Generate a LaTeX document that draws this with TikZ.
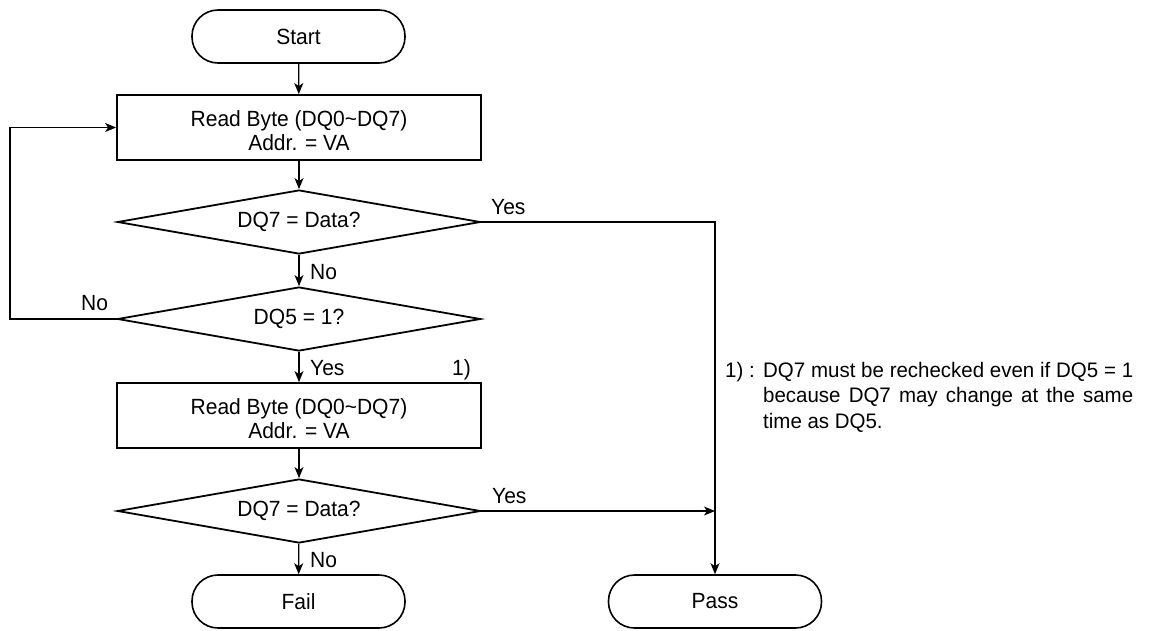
\documentclass[tikz,border=0pt]{standalone}
\usepackage{fontspec}
\setmainfont{Liberation Sans}[FakeStretch=0.955]
\newfontfamily\notefont{Liberation Sans}[FakeStretch=0.975]
\usetikzlibrary{shapes.geometric,arrows.meta}
\begin{document}
\begin{tikzpicture}[x=1pt,y=-1pt,
  font=\fontsize{22}{24}\selectfont,
  box/.style={draw, line width=1.8pt, rectangle, minimum width=364pt, minimum height=65pt, inner sep=0pt, align=center},
  term/.style={draw, line width=1.6pt, rectangle, rounded corners=26pt, minimum width=213pt, minimum height=53pt, inner sep=0pt},
  dec/.style={draw, line width=1.8pt, diamond, aspect=5.67, minimum width=363pt, minimum height=64pt, inner sep=0pt},
  conn/.style={line width=1.2pt, -{Stealth[length=11pt,width=9pt,inset=3pt]}},
  lbl/.style={inner sep=0pt, text height=15.7pt, text depth=0pt}]
\useasboundingbox (0,0) rectangle (1175,630);

\node[term] (start) at (298.5,36.5) {Start};
\node[box] (read1) at (299,127.5) {\rule{0pt}{22pt}Read Byte (DQ0\textasciitilde DQ7)\\Addr. = VA};
\node[dec] (d1) at (299,222) {DQ7 = Data?};
\node[dec] (d2) at (299,319) {DQ5 = 1?};
\node[box] (read2) at (299,415.5) {\rule{0pt}{22pt}Read Byte (DQ0\textasciitilde DQ7)\\Addr. = VA};
\node[dec] (d3) at (299,511) {DQ7 = Data?};
\node[term] (fail) at (298.5,601.5) {Fail};
\node[term] (pass) at (715,601.5) {Pass};

\node[lbl, anchor=west] (no1) at (310,272) {No};
\node[lbl, anchor=west] (yes2) at (310,368) {Yes};
\node[lbl, anchor=west] (fn) at (452,368) {1)};
\node[lbl, anchor=west] (yes1) at (491,207) {Yes};
\node[lbl, anchor=west] (no2) at (81,303) {No};
\node[lbl, anchor=west] (yes3) at (492,496) {Yes};
\node[lbl, anchor=west] (no3) at (310,560) {No};

\node[lbl, anchor=west, font=\notefont\fontsize{21}{25.5}\selectfont] (fnk) at (725,370) {1) :};
\node[anchor=north west, inner sep=0pt, align=left, font=\notefont\fontsize{21}{25.5}\selectfont] (note) at (763,362)
  {\makebox[370pt][s]{DQ7 must be rechecked even if DQ5 = 1}\\
   \makebox[370pt][s]{because DQ7 may change at the same}\\
   time as DQ5.};

\draw[conn] (start) -- (read1);
\draw[conn] (read1) -- (d1);
\draw[conn] (d1) -- (d2);
\draw[conn] (d2) -- (read2);
\draw[conn] (read2) -- (d3);
\draw[conn] (d3) -- (fail);
\coordinate (lp) at (10,319);
\draw[conn] (d2.west) -- (lp) |- (read1.west);
\draw[conn] (d1.east) -| (pass.north);
\draw[conn] (d3.east) -- (d3.east -| pass.north);
\end{tikzpicture}
\end{document}
